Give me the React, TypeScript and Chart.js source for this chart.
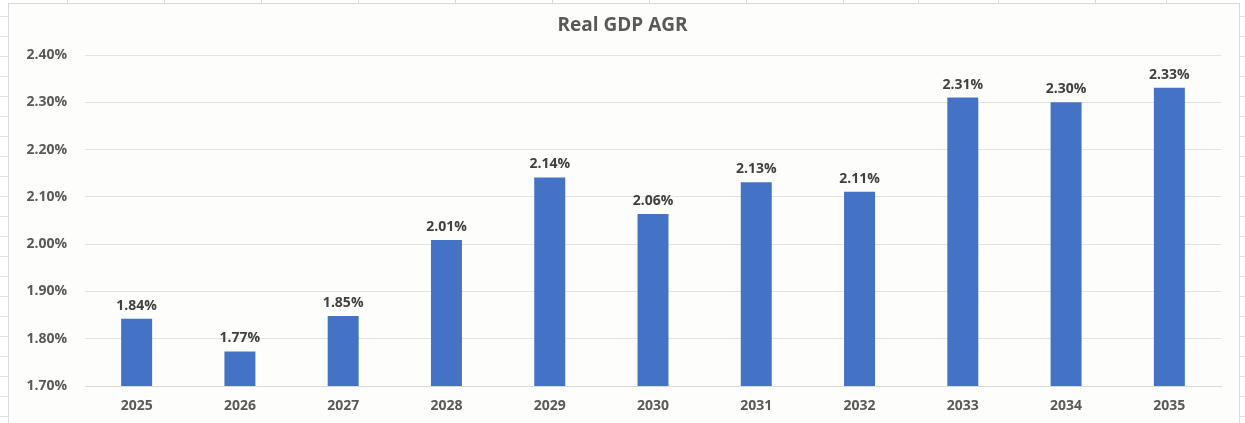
import React, { useEffect, useRef } from "react";
import { Chart, registerables } from "chart.js";

Chart.register(...registerables);

const chartTitle = "Real GDP AGR";
const years = ["2025", "2026", "2027", "2028", "2029", "2030", "2031", "2032", "2033", "2034", "2035"];
const growthValues = [1.842, 1.773, 1.848, 2.009, 2.141, 2.064, 2.131, 2.111, 2.31, 2.3, 2.331];
const growthLabels = ["1.84%", "1.77%", "1.85%", "2.01%", "2.14%", "2.06%", "2.13%", "2.11%", "2.31%", "2.30%", "2.33%"];
const yMin = 1.7;
const yMax = 2.4;
const yStep = 0.1;

const FONT = "'Open Sans', 'DejaVu Sans', sans-serif";

const barLabelPlugin = {
  id: "barLabels",
  afterDatasetsDraw(chart: any) {
    const ctx = chart.ctx;
    const meta = chart.getDatasetMeta(0);
    ctx.save();
    ctx.font = `bold 14px ${FONT}`;
    ctx.fillStyle = "#404040";
    ctx.textAlign = "center";
    ctx.textBaseline = "bottom";
    meta.data.forEach((bar: any, i: number) => {
      ctx.fillText(growthLabels[i], bar.x, bar.y - 6);
    });
    ctx.restore();
  },
};

export default function App() {
  const canvasRef = useRef<HTMLCanvasElement | null>(null);

  useEffect(() => {
    if (!canvasRef.current) return;
    const chart = new Chart(canvasRef.current, {
      type: "bar",
      data: {
        labels: years,
        datasets: [
          {
            data: growthValues,
            backgroundColor: "#4472C4",
            borderWidth: 0,
            barPercentage: 0.3,
            categoryPercentage: 1,
          },
        ],
      },
      options: {
        animation: false,
        responsive: false,
        maintainAspectRatio: false,
        layout: { padding: { left: 24, right: 24, top: 0, bottom: 0 } },
        plugins: {
          legend: { display: false },
          tooltip: { enabled: false },
          title: {
            display: true,
            text: chartTitle,
            color: "#595959",
            font: { family: FONT, size: 19, weight: "bold", lineHeight: 1.2 },
            padding: { top: 14, bottom: 18.2 },
          },
        },
        scales: {
          x: {
            grid: { display: false, drawTicks: false },
            border: { display: true, color: "#d9d9d9" },
            ticks: {
              color: "#595959",
              font: { family: FONT, size: 14, weight: "bold" },
              padding: 12,
              maxRotation: 0,
            },
            afterFit(scale: any) {
              scale.height = 37;
            },
          },
          y: {
            min: yMin,
            max: yMax,
            grid: { color: "#e3e3e3", drawTicks: false },
            border: { display: false },
            ticks: {
              stepSize: yStep,
              color: "#595959",
              font: { family: FONT, size: 14, weight: "bold" },
              padding: 18,
              callback: (v: any) => Number(v).toFixed(2) + "%",
            },
            afterFit(scale: any) {
              scale.width = 61;
            },
          },
        },
      },
      plugins: [barLabelPlugin],
    });
    return () => chart.destroy();
  }, []);

  const colLines = [67, 164, 261, 358, 455, 552, 649, 746, 843, 918, 998, 1095, 1166];

  return (
    <div
      style={{
        position: "fixed",
        left: 0,
        top: 0,
        width: 1245,
        height: 423,
        background: "#ffffff",
        overflow: "hidden",
      }}
    >
      <div
        style={{
          position: "absolute",
          left: 0,
          top: 0,
          width: 1245,
          height: 423,
          backgroundImage:
            "repeating-linear-gradient(to bottom, transparent 0px, transparent 16px, #e2e2e2 16px, #e2e2e2 17px, transparent 17px, transparent 20px)",
        }}
      />
      {colLines.map((x) => (
        <div key={x} style={{ position: "absolute", left: x, top: 0, width: 1, height: 3, background: "#d9d9d9" }} />
      ))}
      <div
        style={{
          position: "absolute",
          left: 8,
          top: 3,
          width: 1230,
          height: 440,
          background: "#fdfdfb",
          border: "1px solid #d9d9d9",
        }}
      />
      <canvas
        ref={canvasRef}
        width={1245}
        height={423}
        style={{ position: "absolute", left: 0, top: 0, width: 1245, height: 423 }}
      />
    </div>
  );
}
